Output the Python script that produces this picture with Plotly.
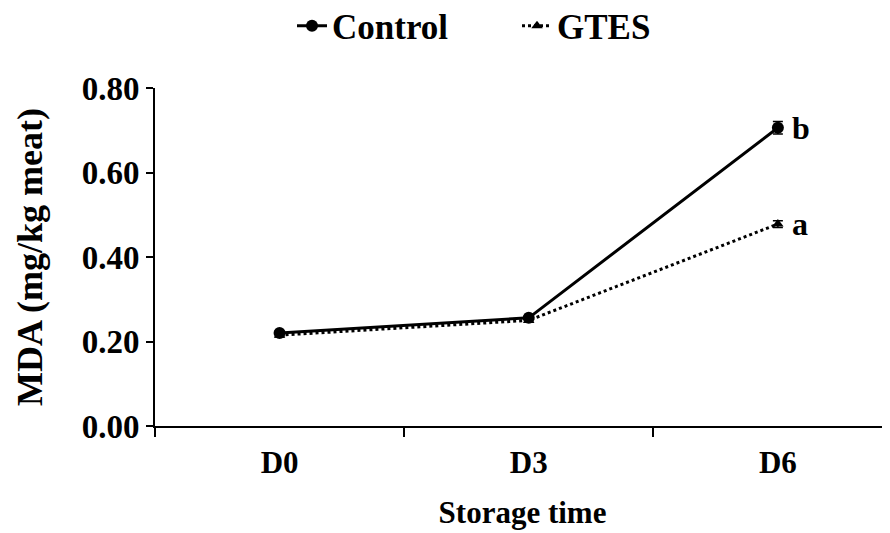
import plotly.graph_objects as go

categories = ["D0", "D3", "D6"]
control = [0.220, 0.256, 0.706]
control_err = [0.004, 0.004, 0.015]
gtes = [0.215, 0.250, 0.478]
gtes_err = [0.004, 0.004, 0.008]
letters_control = ["", "", "b"]
letters_gtes = ["", "", "a"]
y_ticks = [0.0, 0.2, 0.4, 0.6, 0.8]

FONT = "Liberation Serif, Times New Roman, serif"
W, H = 882, 525

fig = go.Figure()
fig.add_trace(go.Scatter(
    x=categories, y=control, name="Control", mode="lines+markers",
    line=dict(color="black", width=3),
    marker=dict(symbol="circle", size=12, color="black"),
    error_y=dict(type="data", array=control_err, color="black", thickness=1.5, width=5),
))
fig.add_trace(go.Scatter(
    x=categories, y=gtes, name="GTES", mode="lines+markers",
    line=dict(color="black", width=3, dash="dot"),
    marker=dict(symbol="triangle-up", size=10, color="black"),
    error_y=dict(type="data", array=gtes_err, color="black", thickness=1.5, width=5),
))

for cat, val, lab in zip(categories, control, letters_control):
    if lab:
        fig.add_annotation(x=cat, y=val, text=lab, showarrow=False, xanchor="left",
                           xshift=12, font=dict(family=FONT, size=32, color="black", weight="bold"))
for cat, val, lab in zip(categories, gtes, letters_gtes):
    if lab:
        fig.add_annotation(x=cat, y=val, text=lab, showarrow=False, xanchor="left",
                           xshift=12, font=dict(family=FONT, size=32, color="black", weight="bold"))

fig.update_layout(
    width=W, height=H,
    margin=dict(l=147, r=0, t=80, b=107, autoexpand=False),
    paper_bgcolor="white", plot_bgcolor="white",
    font=dict(family=FONT, color="black", weight="bold"),
    showlegend=True,
    legend=dict(orientation="h", xref="container", yref="container",
                x=(292 - 8) / W, xanchor="left", y=1 - 18 / H, yanchor="middle",
                entrywidth=180, entrywidthmode="pixels",
                font=dict(family=FONT, size=35, color="black", weight="bold"),
                bgcolor="rgba(0,0,0,0)"),
    xaxis=dict(
        type="category", range=[-0.5, 2.45], tickson="boundaries",
        showline=True, linecolor="black", linewidth=2,
        ticks="outside", ticklen=9, tickwidth=2, tickcolor="black",
        showgrid=False, zeroline=False, ticklabelstandoff=8,
        tickfont=dict(family=FONT, size=31, color="black", weight="bold"),
        title=dict(text="Storage time", standoff=22,
                   font=dict(family=FONT, size=31, color="black", weight="bold")),
    ),
    yaxis=dict(
        range=[0, 0.8], tickvals=y_ticks, tickformat=".2f",
        showline=True, linecolor="black", linewidth=2,
        ticks="outside", ticklen=7, tickwidth=2, tickcolor="black",
        showgrid=False, zeroline=False,
        tickfont=dict(family=FONT, size=33, color="black", weight="bold"),
        title=dict(text="MDA (mg/kg meat)", standoff=28,
                   font=dict(family=FONT, size=36, color="black", weight="bold")),
    ),
)

fig.write_html("out.html")
